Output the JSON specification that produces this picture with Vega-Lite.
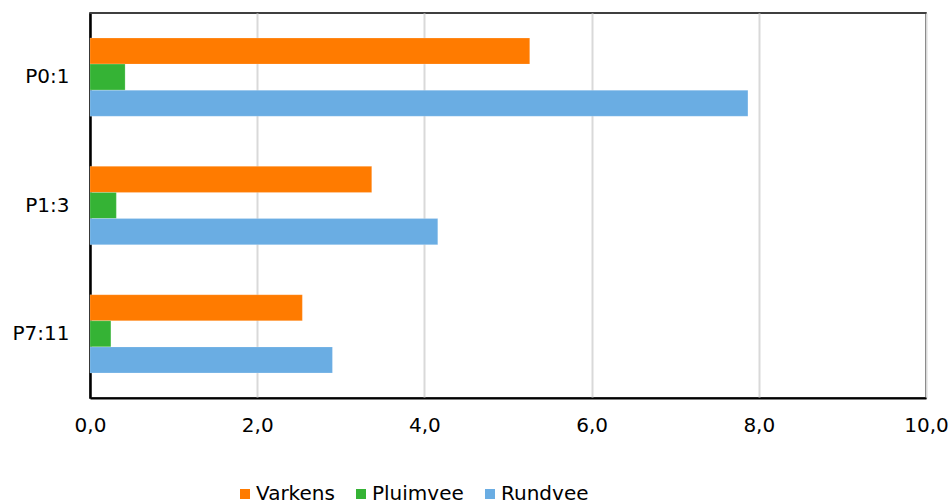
{
  "$schema": "https://vega.github.io/schema/vega-lite/v6.json",
  "width": 836,
  "height": 385,
  "autosize": "none",
  "padding": {"left": 90, "top": 13, "right": 25, "bottom": 103},
  "background": "white",
  "data": {
    "values": [
      {"cat": "P0:1", "serie": "Varkens", "v": 5.26},
      {"cat": "P0:1", "serie": "Pluimvee", "v": 0.42},
      {"cat": "P0:1", "serie": "Rundvee", "v": 7.87},
      {"cat": "P1:3", "serie": "Varkens", "v": 3.37},
      {"cat": "P1:3", "serie": "Pluimvee", "v": 0.315},
      {"cat": "P1:3", "serie": "Rundvee", "v": 4.16},
      {"cat": "P7:11", "serie": "Varkens", "v": 2.54},
      {"cat": "P7:11", "serie": "Pluimvee", "v": 0.25},
      {"cat": "P7:11", "serie": "Rundvee", "v": 2.9}
    ]
  },
  "mark": {"type": "bar", "stroke": "white", "strokeOpacity": 0.4, "strokeWidth": 0.5},
  "encoding": {
    "y": {
      "field": "cat",
      "type": "nominal",
      "sort": ["P0:1", "P1:3", "P7:11"],
      "scale": {"paddingInner": 0.39, "paddingOuter": 0.195},
      "axis": {
        "title": null,
        "ticks": false,
        "domainColor": "black",
        "domainWidth": 2.5,
        "labelPadding": 21,
        "labelFontSize": 20,
        "labelColor": "black",
        "labelFont": "DejaVu Sans"
      }
    },
    "yOffset": {
      "field": "serie",
      "type": "nominal",
      "sort": ["Varkens", "Pluimvee", "Rundvee"]
    },
    "x": {
      "field": "v",
      "type": "quantitative",
      "scale": {"domain": [0, 10], "nice": false},
      "axis": {
        "title": null,
        "values": [0, 2, 4, 6, 8, 10],
        "labelExpr": "replace(format(datum.value, '.1f'), '.', ',')",
        "ticks": false,
        "domainColor": "black",
        "domainWidth": 2,
        "grid": true,
        "gridColor": "#d9d9d9",
        "gridWidth": 2,
        "labelPadding": 17,
        "labelFontSize": 20,
        "labelColor": "black",
        "labelFont": "DejaVu Sans",
        "labelFlush": false
      }
    },
    "color": {
      "field": "serie",
      "type": "nominal",
      "sort": ["Varkens", "Pluimvee", "Rundvee"],
      "scale": {
        "domain": ["Varkens", "Pluimvee", "Rundvee"],
        "range": ["#ff7b00", "#35b335", "#6aade3"]
      },
      "legend": {
        "title": null,
        "orient": "none",
        "direction": "horizontal",
        "legendX": 145,
        "legendY": 471,
        "symbolType": "square",
        "symbolSize": 100,
        "symbolStrokeWidth": 0,
        "labelFontSize": 20,
        "labelFont": "DejaVu Sans",
        "labelColor": "black",
        "labelOffset": 1,
        "columnPadding": 16
      }
    }
  },
  "config": {
    "view": {"stroke": "black", "strokeWidth": 1.5},
    "font": "DejaVu Sans"
  }
}
